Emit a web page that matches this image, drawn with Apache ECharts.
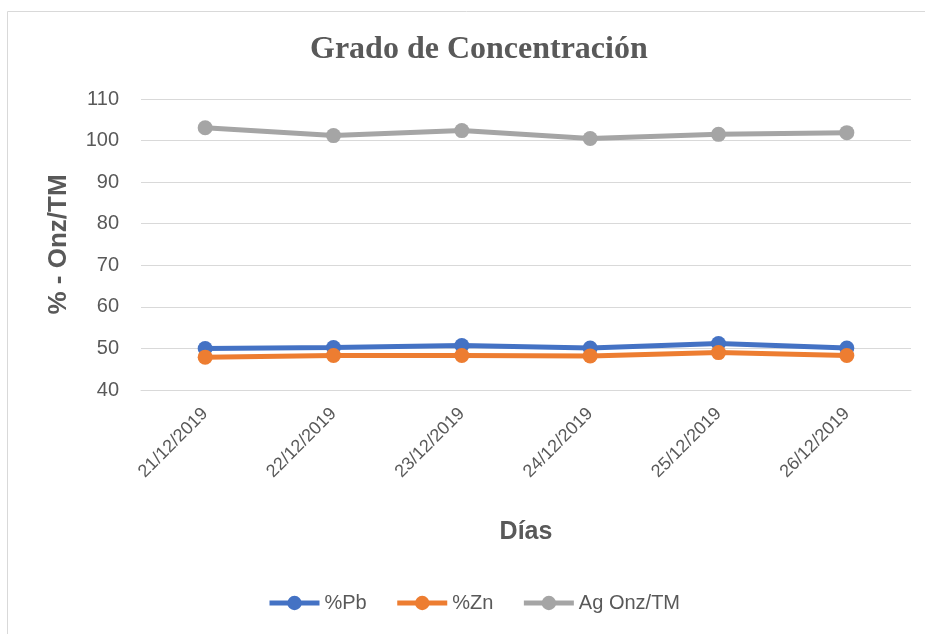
<!DOCTYPE html>
<html>
<head>
<meta charset="utf-8">
<script src="https://cdn.jsdelivr.net/npm/echarts@6/dist/echarts.min.js"></script>
<style>
  html, body { margin: 0; padding: 0; background: #fff; }
  #chart { width: 925px; height: 634px; }
</style>
</head>
<body>
<div id="chart"></div>
<script>
const dias = ["21/12/2019", "22/12/2019", "23/12/2019", "24/12/2019", "25/12/2019", "26/12/2019"];
const pb = [50.0, 50.2, 50.7, 50.1, 51.2, 50.1];
const zn = [47.9, 48.3, 48.3, 48.2, 49.0, 48.3];
const ag = [103.1, 101.2, 102.4, 100.5, 101.5, 101.9];

const chart = echarts.init(document.getElementById("chart"));

function serie(name, data, color) {
  return {
    name: name,
    type: "line",
    data: data,
    symbol: "circle",
    symbolSize: 15,
    lineStyle: { width: 5, color: color },
    itemStyle: { color: color },
  };
}

chart.setOption({
  animation: false,
  title: {
    text: "Grado de Concentración",
    left: 305,
    top: 29,
    textStyle: {
      fontFamily: "Liberation Serif",
      fontSize: 32,
      fontWeight: "bold",
      color: "#595959",
    },
  },
  grid: { left: 141, right: 14, top: 99, bottom: 244 },
  legend: {
    bottom: 16,
    left: 262,
    itemWidth: 50,
    itemHeight: 18,
    itemGap: 28,
    lineStyle: { width: 5 },
    textStyle: { fontFamily: "Liberation Sans", fontSize: 20, color: "#595959" },
    data: ["%Pb", "%Zn", "Ag Onz/TM"],
  },
  xAxis: {
    type: "category",
    data: dias,
    name: "Días",
    nameLocation: "middle",
    nameGap: 130,
    nameTextStyle: { fontFamily: "Liberation Sans", fontSize: 25, fontWeight: "bold", color: "#595959" },
    axisTick: { show: false },
    axisLine: { lineStyle: { color: "#d9d9d9" } },
    axisLabel: {
      rotate: 45,
      margin: 21,
      fontFamily: "Liberation Sans",
      fontSize: 18,
      color: "#595959",
    },
  },
  yAxis: {
    type: "value",
    min: 40,
    max: 110,
    interval: 10,
    name: "% - Onz/TM",
    nameLocation: "middle",
    nameGap: 69,
    nameTextStyle: { fontFamily: "Liberation Sans", fontSize: 26, fontWeight: "bold", color: "#595959" },
    axisLabel: { fontFamily: "Liberation Sans", fontSize: 20, color: "#595959", margin: 22 },
    splitLine: { lineStyle: { color: "#d9d9d9", width: 1 } },
  },
  series: [
    serie("%Pb", pb, "#4472c4"),
    serie("%Zn", zn, "#ed7d31"),
    serie("Ag Onz/TM", ag, "#a5a5a5"),
  ],
  graphic: [
    {
      type: "rect",
      left: 5,
      top: 9,
      shape: { width: 918, height: 623 },
      style: { fill: "none", stroke: "#d9d9d9", lineWidth: 1 },
      silent: true,
    },
  ],
});
</script>
</body>
</html>
